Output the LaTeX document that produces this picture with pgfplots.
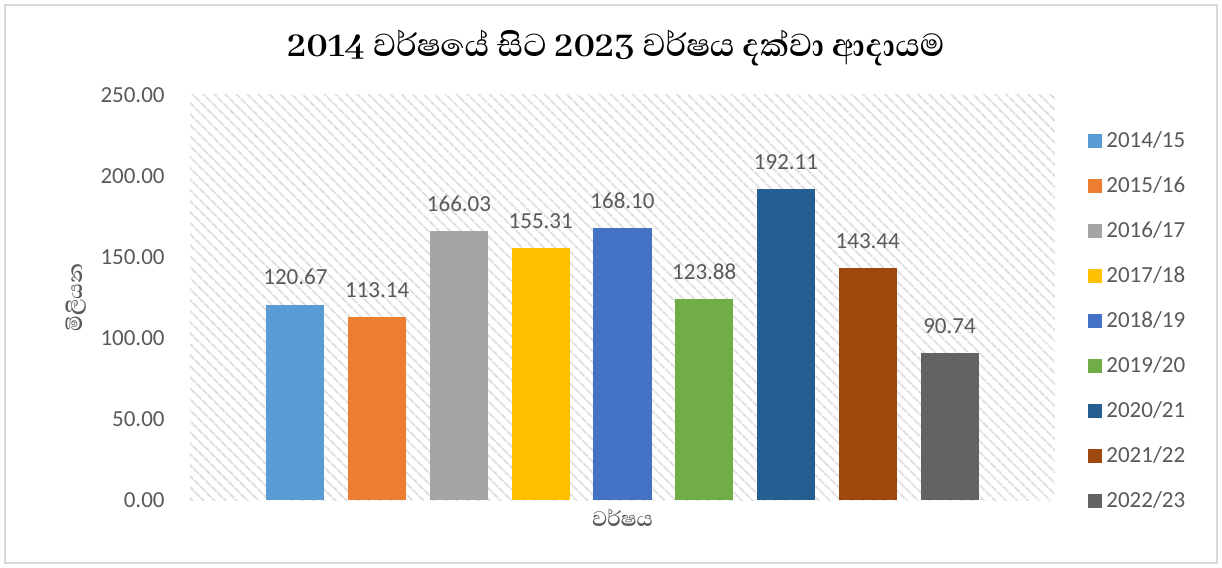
\documentclass[border=0pt]{standalone}
\usepackage{pgfplots}
\pgfplotsset{compat=1.18}
\usetikzlibrary{patterns.meta}
\usepackage{fontspec}
\setmainfont{Carlito}
\newfontfamily\sinhala[Script=Sinhala]{Abhaya Libre}
\definecolor{c1}{HTML}{5B9BD5}
\definecolor{c2}{HTML}{ED7D31}
\definecolor{c3}{HTML}{A5A5A5}
\definecolor{c4}{HTML}{FFC000}
\definecolor{c5}{HTML}{4472C4}
\definecolor{c6}{HTML}{70AD47}
\definecolor{c7}{HTML}{255E91}
\definecolor{c8}{HTML}{9E480E}
\definecolor{c9}{HTML}{636363}
\definecolor{txt}{HTML}{595959}
\definecolor{frame}{HTML}{D9D9D9}
\begin{document}
\begin{tikzpicture}
\useasboundingbox (-95pt,-34pt) rectangle (516pt,250pt);
\draw[frame, line width=0.75pt] (-92.5pt,-31.5pt) rectangle (513.5pt,247.5pt);
\begin{axis}[
 name=ax, at={(0,0)}, anchor=south west,
 scale only axis, width=432.5pt, height=202.5pt,
 ybar, bar width=0.71,
 xmin=-1.29, xmax=9.29, ymin=0, ymax=250,
 ytick={0,50,...,250}, xtick=\empty,
 axis line style={draw=none}, major tick length=0pt,
 /pgf/number format/assume math mode=true,
 tick label style={font=\fontsize{11.5}{13}\selectfont, text=txt},
 yticklabel={\pgfmathprintnumber[fixed,fixed zerofill,precision=2]{\tick}},
 yticklabel style={inner sep=0pt, xshift=-12.5pt},
 axis background/.style={pattern={Lines[angle=-45,distance=4pt,line width=1.1pt]}, pattern color=gray!24},
 nodes near coords={\pgfmathprintnumber[fixed,fixed zerofill,precision=2]{\pgfplotspointmeta}},
 every node near coord/.append style={font=\fontsize{11.5}{13}\selectfont, text=txt, inner sep=0pt, yshift=9.5pt},
 every axis title shift=0pt,
 title={\sinhala\bfseries 2014 වර්ෂයේ සිට 2023 වර්ෂය දක්වා ආදායම},
 title style={at={(0.4925,1)}, anchor=center, yshift=23.5pt, font=\fontsize{20.4}{24}\selectfont},
 ylabel={\sinhala\bfseries මිලියන},
 ylabel style={at={(axis description cs:-0.132,0.5)}, anchor=center, text=txt, font=\fontsize{13}{15}\selectfont},
 xlabel={\sinhala\bfseries වර්ෂය},
 xlabel style={at={(axis description cs:0.5,-0.045)}, anchor=center, text=txt, font=\fontsize{13.5}{15}\selectfont},
 legend style={draw=none, fill=none, at={(1.0382,0.92)}, anchor=north west, font=\fontsize{11.5}{13}\selectfont, text=txt, row sep=9pt, inner sep=0pt},
 legend cell align=left,
 legend image code/.code={\fill[#1,draw=none] (0pt,-3.5pt) rectangle (7pt,3.5pt);},
]
\addplot[fill=c1, draw=none, bar shift=0pt] coordinates {(0,120.67)};
\addplot[fill=c2, draw=none, bar shift=0pt] coordinates {(1,113.14)};
\addplot[fill=c3, draw=none, bar shift=0pt] coordinates {(2,166.03)};
\addplot[fill=c4, draw=none, bar shift=0pt] coordinates {(3,155.31)};
\addplot[fill=c5, draw=none, bar shift=0pt] coordinates {(4,168.10)};
\addplot[fill=c6, draw=none, bar shift=0pt] coordinates {(5,123.88)};
\addplot[fill=c7, draw=none, bar shift=0pt] coordinates {(6,192.11)};
\addplot[fill=c8, draw=none, bar shift=0pt] coordinates {(7,143.44)};
\addplot[fill=c9, draw=none, bar shift=0pt] coordinates {(8,90.74)};
\legend{2014/15,2015/16,2016/17,2017/18,2018/19,2019/20,2020/21,2021/22,2022/23}
\end{axis}
\end{tikzpicture}
\end{document}
